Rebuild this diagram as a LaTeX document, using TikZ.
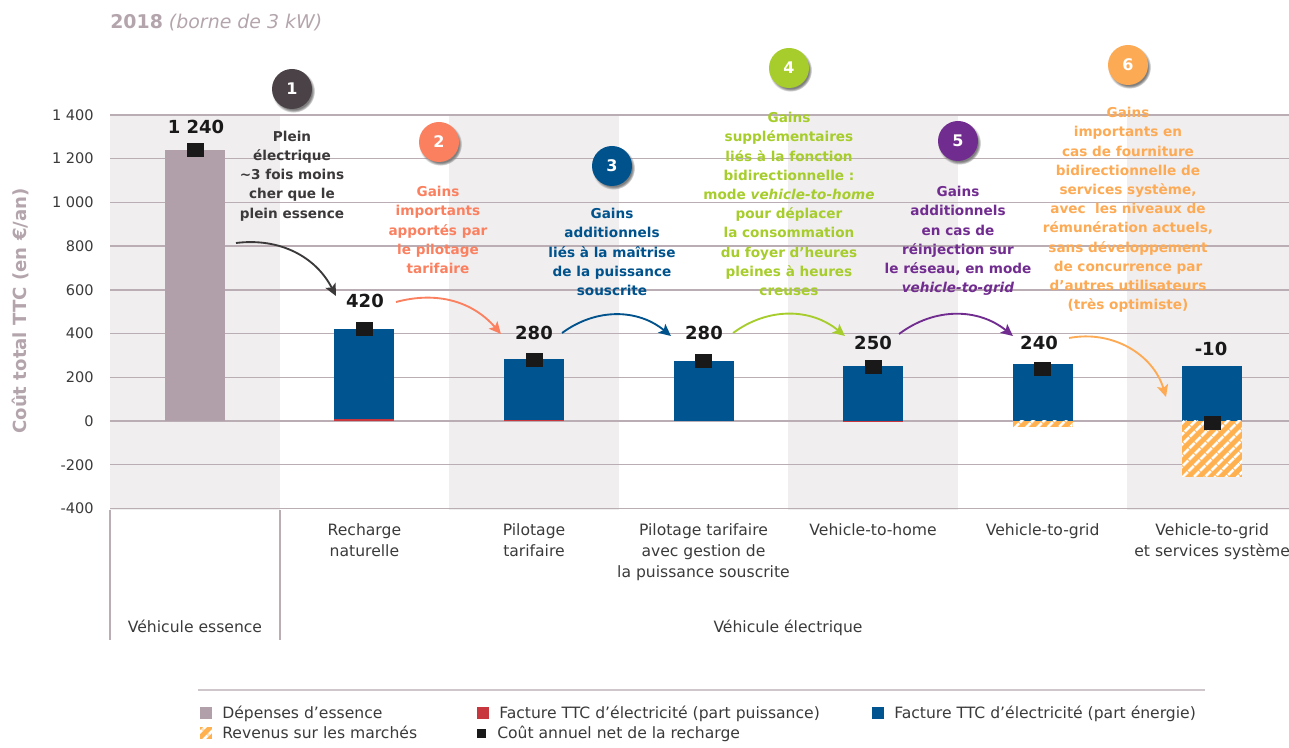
\documentclass[tikz,border=0pt]{standalone}
\usepackage{fontspec}
\setmainfont{DejaVu Sans}
\usetikzlibrary{arrows.meta,shadows,patterns.meta}
\definecolor{essence}{HTML}{B1A0A9}
\definecolor{bleu}{HTML}{00548F}
\definecolor{rouge}{HTML}{C8373D}
\definecolor{hachure}{HTML}{FFB04F}
\definecolor{bande}{HTML}{F1EEEF}
\definecolor{grille}{HTML}{BAAEB4}
\definecolor{gristitre}{HTML}{B4A5AD}
\definecolor{texte}{HTML}{3A3A3A}
\definecolor{gainA}{HTML}{4A4246}
\definecolor{gainAt}{HTML}{3C393A}
\definecolor{gainB}{HTML}{FA8060}
\definecolor{gainC}{HTML}{00528C}
\definecolor{gainD}{HTML}{A6CD2B}
\definecolor{gainE}{HTML}{712C90}
\definecolor{gainF}{HTML}{FDAA55}

\begin{document}
\begin{tikzpicture}[x=0.75pt,y=-0.75pt,
    every node/.style={inner sep=0pt},
    ligne/.style={draw=grille,line width=1.1pt},
    valeur/.style={font=\fontsize{13.5}{16}\selectfont\bfseries,text=black!90},
    marque/.style={fill=black!90,minimum width=12.75pt,minimum height=10.5pt},
    pastille/.style={circle,minimum size=30pt,text=white,font=\fontsize{12}{14}\selectfont\bfseries,
        circular drop shadow={shadow xshift=1pt,shadow yshift=-1.5pt,shadow scale=1.08}},
    gain/.style={align=center,font=\fontsize{10.2}{14.4}\selectfont\bfseries},
    fleche/.style={-{Stealth[length=9pt,width=8.5pt,inset=2pt]},line width=1.4pt},
    graduation/.style={anchor=east,text=texte,font=\fontsize{10.9}{13}\selectfont},
    categorie/.style={anchor=north,align=center,text=texte,font=\fontsize{11.7}{15.75}\selectfont},
    legende/.style={anchor=base west,text=texte,font=\fontsize{11.7}{13}\selectfont},
    raye/.style={pattern={Lines[angle=45,distance=6.4pt,line width=2.4pt]},pattern color=white}]
\useasboundingbox (0,0) rectangle (1289,748);

\node[anchor=base west,text=gristitre,font=\fontsize{14.2}{16}\selectfont] (titre) at (110,29)
    {\textbf{2018} \textit{(borne de 3 kW)}};
\node[rotate=90,text=gristitre,font=\fontsize{13.6}{16}\selectfont\bfseries] (axe) at (20,311)
    {Coût total TTC (en €/an)};

\foreach \i in {0,2,4,6}
    \fill[bande] ({110+\i*169.57},115) rectangle +(169.57,395);

\begin{scope}[yshift=-315.75pt,y=0.16395pt]
\foreach \v/\t in {-400/-400,-200/-200,0/0,200/200,400/400,600/600,800/800,1000/1 000,1200/1 200,1400/1 400}
  {\draw[ligne] (110,\v) -- (1297,\v);
   \node[graduation] (tick\v) at (94,\v) {\t};}

\fill[essence] (165,0) rectangle (225,1240);
\fill[rouge] (334.4,0) rectangle (394.4,8);
\fill[bleu] (334.4,8) rectangle (394.4,420);
\fill[rouge] (504,0) rectangle (564,5);
\fill[bleu] (504,5) rectangle (564,283);
\fill[bleu] (673.5,0) rectangle (733.5,274);
\fill[rouge] (843.1,0) rectangle (903.1,2);
\fill[bleu] (843.1,2) rectangle (903.1,252);
\fill[bleu] (1012.7,0) rectangle (1072.7,261);
\fill[hachure] (1012.7,0) rectangle (1072.7,-27);
\fill[raye] (1012.7,0) rectangle (1072.7,-27);
\fill[bleu] (1182.2,0) rectangle (1242.2,252);
\fill[hachure] (1182.2,0) rectangle (1242.2,-256);
\fill[raye] (1182.2,0) rectangle (1242.2,-256);

\node[marque] (m1) at (195,1240) {};
\node[marque] (m2) at (364.4,420) {};
\node[marque] (m3) at (534,280) {};
\node[marque] (m4) at (703.5,275) {};
\node[marque] (m5) at (873.1,248) {};
\node[marque] (m6) at (1042.7,238) {};
\node[marque] (m7) at (1212.2,-10) {};
\end{scope}

\draw[ligne] (110,510) -- (110,640);
\draw[ligne] (280,510) -- (280,640);

\node[valeur] (v1) at (196,127) {1 240};
\node[valeur] (v2) at (365,301) {420};
\node[valeur] (v3) at (534,333) {280};
\node[valeur] (v4) at (704,333) {280};
\node[valeur] (v5) at (873,343) {250};
\node[valeur] (v6) at (1039,343) {240};
\node[valeur] (v7) at (1211,349) {-10};

\node[pastille,fill=gainA] (p1) at (292,89) {1};
\node[pastille,fill=gainB] (p2) at (439,142) {2};
\node[pastille,fill=gainC] (p3) at (612,166) {3};
\node[pastille,fill=gainD] (p4) at (789,68) {4};
\node[pastille,fill=gainE] (p5) at (958,141) {5};
\node[pastille,fill=gainF] (p6) at (1128,65) {6};

\node[gain,text=gainAt] (g1) at (292,176)
    {Plein\\électrique\\\textasciitilde3 fois moins\\cher que le\\plein essence};
\node[gain,text=gainB] (g2) at (438,230)
    {Gains\\importants\\apportés par\\le pilotage\\tarifaire};
\node[gain,text=gainC] (g3) at (612,252)
    {Gains\\additionnels\\liés à la maîtrise\\de la puissance\\souscrite};
\node[gain,text=gainD] (g4) at (789,204)
    {Gains\\supplémentaires\\liés à la fonction\\bidirectionnelle :\\mode \textit{vehicle-to-home}\\pour déplacer\\la consommation\\du foyer d’heures\\pleines à heures\\creuses};
\node[gain,text=gainE] (g5) at (958,241)
    {Gains\\additionnels\\en cas de\\réinjection sur\\le réseau, en mode\\\textit{vehicle-to-grid}};
\node[gain,text=gainF] (g6) at (1128,210)
    {Gains\\importants en\\cas de fourniture\\bidirectionnelle de\\services système,\\avec \ les niveaux de\\rémunération actuels,\\sans développement\\de concurrence par\\d’autres utilisateurs\\(très optimiste)};

\coordinate (a1) at (236,243);
\coordinate (a6) at (1166,397);
\draw[fleche,draw=gainAt] (a1) to[bend left=35] ([shift={(-10,-5)}]v2.west);
\draw[fleche,draw=gainB] ([shift={(12,1)}]v2.east) to[bend left=32] ([shift={(-14,1)}]v3.west);
\draw[fleche,draw=gainC] ([shift={(9,0)}]v3.east) to[bend left=38] ([shift={(-14,3)}]v4.west);
\draw[fleche,draw=gainD] ([shift={(10,0)}]v4.east) to[bend left=38] ([shift={(-9,-7)}]v5.west);
\draw[fleche,draw=gainE] ([shift={(7,-9)}]v5.east) to[bend left=38] ([shift={(-7,-7)}]v6.west);
\draw[fleche,draw=gainF] ([shift={(11,-5)}]v6.east) to[bend left=42] (a6);

\node[categorie] (k2) at (364.4,523) {Recharge\\naturelle};
\node[categorie] (k3) at (534,523) {Pilotage\\tarifaire};
\node[categorie] (k4) at (703.5,523) {Pilotage tarifaire\\avec gestion de\\la puissance souscrite};
\node[categorie] (k5) at (873.1,523) {Vehicle-to-home};
\node[categorie] (k6) at (1042.7,523) {Vehicle-to-grid};
\node[categorie] (k7) at (1212.2,523) {Vehicle-to-grid\\et services système};
\node[categorie,anchor=base] (ke) at (195,632) {Véhicule essence};
\node[categorie,anchor=base] (kv) at (788,632) {Véhicule électrique};

\draw[draw=grille!70,line width=1.3pt] (198,690) -- (1205,690);
\fill[essence] (200,707) rectangle (212,719);
\node[legende] (l1) at (222,718.5) {Dépenses d’essence};
\fill[rouge] (477,707) rectangle (489,719);
\node[legende] (l2) at (499,718.5) {Facture TTC d’électricité (part puissance)};
\fill[bleu] (872,707) rectangle (884,719);
\node[legende] (l3) at (894,718.5) {Facture TTC d’électricité (part énergie)};
\fill[hachure] (200,727) rectangle (212,739);
\fill[raye] (200,727) rectangle (212,739);
\node[legende] (l4) at (222,738.5) {Revenus sur les marchés};
\fill[black!90] (477,729) rectangle (486,738);
\node[legende] (l5) at (497,738.5) {Coût annuel net de la recharge};
\end{tikzpicture}
\end{document}
